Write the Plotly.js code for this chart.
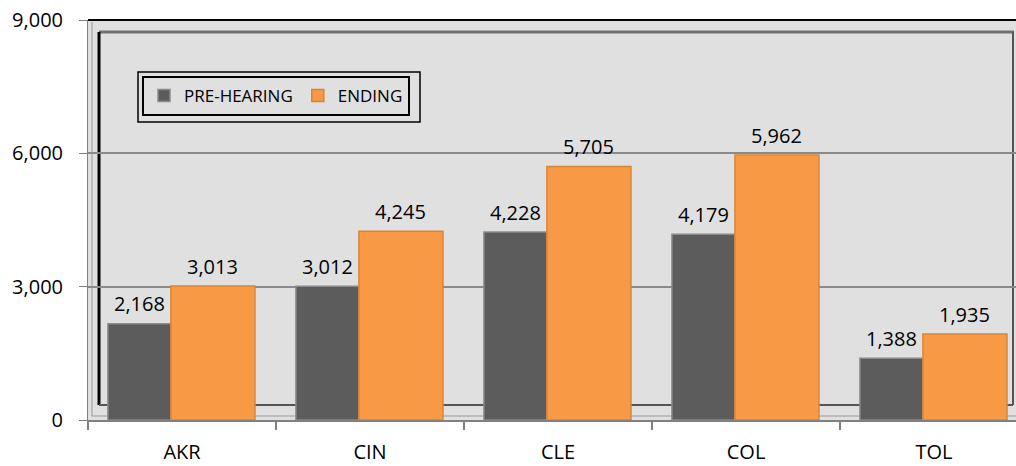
<!DOCTYPE html>
<html>
<head>
<meta charset="utf-8">
<script src="https://cdn.plot.ly/plotly-3.0.1.min.js"></script>
<style>html,body{margin:0;padding:0;background:#fff;}#chart{width:1016px;height:466px;}</style>
</head>
<body>
<div id="chart"></div>
<script>
const categories = ["AKR", "CIN", "CLE", "COL", "TOL"];
const preHearing = [2168, 3012, 4228, 4179, 1388];
const ending = [3013, 4245, 5705, 5962, 1935];
const seriesNames = ["PRE-HEARING", "ENDING"];
const yTicks = [0, 3000, 6000, 9000];

const FONT = "'Open Sans', Lato, sans-serif";
const W = 1016, H = 466, L = 88, T = 20, B = 46;
const pw = W - L, ph = H - T - B;
function px(x){ return (x - L) / pw; }
function py(y){ return 1 - (y - T) / ph; }

const BAND = 188; // px per category
const g = {width: 0.335, offset: -0.394};
const o = {width: 0.447, offset: -0.059};

const traces = [
  {
    type: "bar", name: seriesNames[0], x: categories, y: preHearing,
    width: g.width, offset: g.offset,
    marker: {color: "#5c5c5c", line: {color: "#8a8a8a", width: 1.5}}
  },
  {
    type: "bar", name: seriesNames[1], x: categories, y: ending,
    width: o.width, offset: o.offset,
    marker: {color: "#f89a45", line: {color: "#d98538", width: 1.5}}
  }
];

function labels(vals, spec){
  return vals.map((v, i) => ({
    xref: "x", yref: "y", x: categories[i], y: v,
    xshift: (spec.offset + spec.width / 2) * BAND, yshift: 20,
    yanchor: "middle", xanchor: "center", showarrow: false,
    text: v.toLocaleString("en-US"),
    font: {family: FONT, size: 20, color: "#000"}
  }));
}

const shapes = [
  {type:"line", xref:"paper", yref:"paper", x0:0, x1:1, y0:1, y1:1, line:{color:"#000", width:2}, layer:"above"},
  {type:"line", xref:"paper", yref:"paper", x0:px(99), x1:px(1014), y0:py(32), y1:py(32), line:{color:"#707070", width:3}, layer:"below"},
  {type:"line", xref:"paper", yref:"paper", x0:px(99), x1:px(99), y0:py(32), y1:py(405), line:{color:"#000", width:3}, layer:"below"},
  {type:"line", xref:"paper", yref:"paper", x0:px(1013), x1:px(1013), y0:py(32), y1:py(405), line:{color:"#555", width:2}, layer:"below"},
  {type:"line", xref:"paper", yref:"paper", x0:px(92), x1:px(92), y0:py(22), y1:py(416), line:{color:"#9a9a9a", width:1}, layer:"below"},
  {type:"line", xref:"paper", yref:"paper", x0:px(99), x1:px(1013), y0:py(405), y1:py(405), line:{color:"#555", width:2}, layer:"below"},
  {type:"line", xref:"paper", yref:"paper", x0:px(92), x1:1, y0:py(416), y1:py(416), line:{color:"#9a9a9a", width:1}, layer:"below"},
  {type:"rect", xref:"paper", yref:"paper", x0:px(138), x1:px(420), y0:py(72), y1:py(122), line:{color:"#000", width:1.5}, fillcolor:"rgba(0,0,0,0)", layer:"above"}
];

const layout = {
  width: W, height: H,
  margin: {l: L, r: 0, t: T, b: B, pad: 0},
  paper_bgcolor: "#ffffff",
  plot_bgcolor: "#e0e0e0",
  barmode: "group",
  showlegend: true,
  legend: {
    x: px(142), y: py(76), xanchor: "left", yanchor: "top",
    orientation: "h", bgcolor: "#e0e0e0", bordercolor: "#000", borderwidth: 2,
    font: {family: FONT, size: 17, color: "#000"},
    itemwidth: 30, traceorder: "normal"
  },
  xaxis: {
    type: "category", range: [-0.5, 4.436],
    showline: true, linecolor: "#808080", linewidth: 2,
    ticks: "outside", tickson: "boundaries", ticklen: 8, tickcolor: "#808080", tickwidth: 2,
    tickfont: {family: FONT, size: 20, color: "#000"},
    ticklabelstandoff: 13,
    showgrid: false, zeroline: false
  },
  yaxis: {
    range: [0, 9000], tickvals: yTicks, tickformat: ",d",
    showline: true, linecolor: "#808080", linewidth: 1,
    ticks: "outside", ticklen: 8, tickcolor: "#808080",
    tickfont: {family: FONT, size: 20, color: "#000"},
    ticklabelstandoff: 12,
    showgrid: true, gridcolor: "#8a8a8a", gridwidth: 2,
    zeroline: false
  },
  shapes: shapes,
  annotations: labels(preHearing, g).concat(labels(ending, o)),
  font: {family: FONT}
};

Plotly.newPlot("chart", traces, layout, {displayModeBar: false, staticPlot: true});
</script>
</body>
</html>
